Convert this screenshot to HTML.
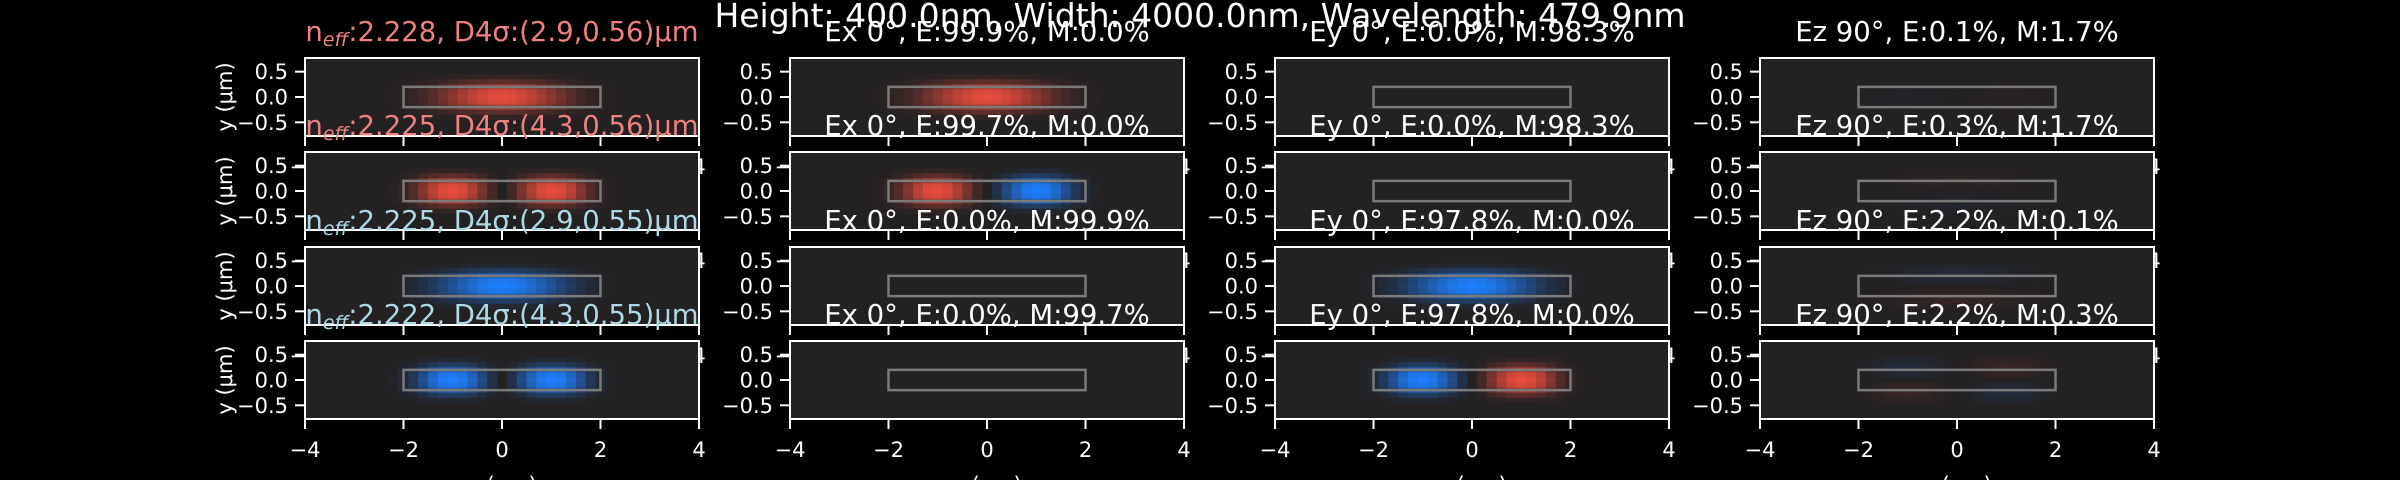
<!DOCTYPE html>
<html><head><meta charset="utf-8">
<style>
html,body{margin:0;padding:0;background:#000;}
svg{display:block;}
text{font-family:"DejaVu Sans","Liberation Sans",sans-serif;fill:#fff;}
</style></head>
<body>
<svg id="fig" width="2400" height="480" viewBox="0 0 2400 480" xmlns="http://www.w3.org/2000/svg">
<rect x="0" y="0" width="2400" height="480" fill="#000"/>
<text x="1200" y="27" font-size="33" text-anchor="middle">Height: 400.0nm, Width: 4000.0nm, Wavelength: 479.9nm</text>
</svg>
<script>
// ---- data ----
const xTicks = [-4, -2, 0, 2, 4];
const xTickLabels = ["\u22124", "\u22122", "0", "2", "4"];
const yTicks = [0.5, 0, -0.5];
const yTickLabels = ["0.5", "0.0", "\u22120.5"];
const xCenters = [-2.4,-2.2,-2.0,-1.8,-1.6,-1.4,-1.2,-1.0,-0.8,-0.6,-0.4,-0.2,0,0.2,0.4,0.6,0.8,1.0,1.2,1.4,1.6,1.8,2.0,2.2,2.4];
const yCenters = [0.4,0.3,0.2,0.1,0,-0.1,-0.2,-0.3,-0.4];
const xMode0 = [0,0.02,0.05,0.1,0.17,0.27,0.4,0.53,0.67,0.8,0.9,0.97,1,0.97,0.9,0.8,0.67,0.53,0.4,0.27,0.17,0.1,0.05,0.02,0];
const xMode1Abs = [0,0.03,0.1,0.25,0.5,0.78,0.95,1,0.93,0.72,0.45,0.18,0,0.18,0.45,0.72,0.93,1,0.95,0.78,0.5,0.25,0.1,0.03,0];
const xMode1Signed = [0,0.03,0.1,0.25,0.5,0.78,0.95,1,0.93,0.72,0.45,0.18,0,-0.18,-0.45,-0.72,-0.93,-1,-0.95,-0.78,-0.5,-0.25,-0.1,-0.03,0];
const yEven = [0.08,0.3,0.7,0.93,1,0.93,0.7,0.3,0.08];
const yOdd = [0.5,0.9,1,0.6,0,-0.6,-1,-0.9,-0.5];
const panelXProfile = [["m0","m0","none","m1s"],["m1a","m1s","none","m0"],["m0","none","m0","m0"],["m1a","none","m1s","m1s"]];
const panelYProfile = [["even","even","even","even"],["even","even","even","odd"],["even","even","even","odd"],["even","even","even","odd"]];
const panelAmp = [[1,1,0,-0.03],[1,1,0,0.05],[-1,0,-1,-0.1],[-1,0,-1,-0.12]];
const titles = [
 ["n_eff:2.228, D4\u03c3:(2.9,0.56)\u03bcm","Ex 0\u00b0, E:99.9%, M:0.0%","Ey 0\u00b0, E:0.0%, M:98.3%","Ez 90\u00b0, E:0.1%, M:1.7%"],
 ["n_eff:2.225, D4\u03c3:(4.3,0.56)\u03bcm","Ex 0\u00b0, E:99.7%, M:0.0%","Ey 0\u00b0, E:0.0%, M:98.3%","Ez 90\u00b0, E:0.3%, M:1.7%"],
 ["n_eff:2.225, D4\u03c3:(2.9,0.55)\u03bcm","Ex 0\u00b0, E:0.0%, M:99.9%","Ey 0\u00b0, E:97.8%, M:0.0%","Ez 90\u00b0, E:2.2%, M:0.1%"],
 ["n_eff:2.222, D4\u03c3:(4.3,0.55)\u03bcm","Ex 0\u00b0, E:0.0%, M:99.7%","Ey 0\u00b0, E:97.8%, M:0.0%","Ez 90\u00b0, E:2.2%, M:0.3%"]
];
const titleColors = ["#f08080","#f08080","#add8e6","#add8e6"];

// ---- layout ----
const NS = "http://www.w3.org/2000/svg";
const svg = document.getElementById('fig');
const colLeft = [305, 790, 1275, 1760];
const rowTop = [58, 152, 247, 341];
const PW = 394, PH = 78, XMIN = -4, XMAX = 4, YMIN = -0.77, YMAX = 0.77;
function sx(c, x) { return colLeft[c] + (x - XMIN) / (XMAX - XMIN) * PW; }
function sy(r, y) { return rowTop[r] + (YMAX - y) / (YMAX - YMIN) * PH; }
const profiles = { m0: xMode0, m1a: xMode1Abs, m1s: xMode1Signed, even: yEven, odd: yOdd };
const BG = [35, 33, 34], RED = [232, 76, 61], BLUE = [30, 128, 255];
function colorFor(v) {
  const t = Math.min(1, Math.abs(v));
  const tgt = v >= 0 ? RED : BLUE;
  const c = BG.map((b, i) => Math.round(b + (tgt[i] - b) * t));
  return `rgb(${c[0]},${c[1]},${c[2]})`;
}
function mk(tag, attrs, parent) {
  const e = document.createElementNS(NS, tag);
  for (const k in attrs) e.setAttribute(k, attrs[k]);
  (parent || svg).appendChild(e);
  return e;
}
const TICKFS = 21, TITLEFS = 27.5;

const titleLayer = [];
for (let r = 0; r < 4; r++) {
  for (let c = 0; c < 4; c++) {
    const g = mk('g', {});
    
    
    const bg = mk('rect', { x: colLeft[c], y: rowTop[r], width: PW, height: PH, fill: '#232122' }, g);
    
    
    const xp = panelXProfile[r][c], yp = panelYProfile[r][c], amp = panelAmp[r][c];
    if (xp !== 'none' && amp !== 0) {
      const hx = profiles[xp], hy = profiles[yp];
      for (let i = 0; i < xCenters.length; i++) {
        for (let j = 0; j < yCenters.length; j++) {
          const v = amp * hx[i] * hy[j];
          if (Math.abs(v) < 0.005) continue;
          const x0 = sx(c, xCenters[i] - 0.1), x1 = sx(c, xCenters[i] + 0.1);
          const y0 = sy(r, yCenters[j] + 0.05), y1 = sy(r, yCenters[j] - 0.05);
          const cell = mk('rect', { x: x0, y: y0, width: x1 - x0 + 0.3, height: y1 - y0 + 0.3, fill: colorFor(v) }, g);
          
          
        }
      }
    }
    const wg = mk('rect', { x: sx(c, -2), y: sy(r, 0.2), width: sx(c, 2) - sx(c, -2), height: sy(r, -0.2) - sy(r, 0.2), fill: 'none', stroke: '#7a7a7a', 'stroke-width': 2.5 }, g);
    
    
    const fr = mk('rect', { x: colLeft[c], y: rowTop[r], width: PW, height: PH, fill: 'none', stroke: '#fff', 'stroke-width': 2 }, g);
    
    
    for (let k = 0; k < yTicks.length; k++) {
      const yy = sy(r, yTicks[k]);
      const tk = mk('line', { x1: colLeft[c] - 10, x2: colLeft[c], y1: yy, y2: yy, stroke: '#fff', 'stroke-width': 2 }, g);
      
      
      const tl = mk('text', { x: colLeft[c] - 17, y: yy + 7.5, 'font-size': TICKFS, 'text-anchor': 'end' }, g);
      tl.textContent = yTickLabels[k];
      
      
    }
    const bot = rowTop[r] + PH;
    for (let k = 0; k < xTicks.length; k++) {
      const xx = sx(c, xTicks[k]);
      const tk = mk('line', { x1: xx, x2: xx, y1: bot, y2: bot + 10, stroke: '#fff', 'stroke-width': 2 }, g);
      
      
      const tl = mk('text', { x: xx, y: bot + 38, 'font-size': TICKFS, 'text-anchor': 'middle' }, g);
      tl.textContent = xTickLabels[k];
      
      
    }
    titleLayer.push([r, c]);
  }
}
for (let r = 0; r < 4; r++) {
  const cy = rowTop[r] + PH / 2;
  const yl = mk('text', { x: 0, y: 0, 'font-size': TICKFS, 'text-anchor': 'middle', transform: `translate(232,${cy}) rotate(-90)` });
  yl.textContent = 'y (\u03bcm)';
  
  
}
for (let c = 0; c < 4; c++) {
  const xl = mk('text', { x: colLeft[c] + PW / 2, y: 492, 'font-size': TICKFS, 'text-anchor': 'middle' });
  xl.textContent = 'x (\u03bcm)';
  
  
}
for (const [r, c] of titleLayer) {
  const t = mk('text', { x: colLeft[c] + PW / 2, y: rowTop[r] - 17, 'font-size': TITLEFS, 'text-anchor': 'middle' });
  const s = titles[r][c];
  if (c === 0) {
    t.style.fill = titleColors[r];
    const parts = s.split('_eff');
    const a = mk('tspan', {}, t); a.textContent = parts[0];
    a.style.fill = titleColors[r];
    const b = mk('tspan', { 'font-size': 19, 'font-style': 'italic', dy: 5 }, t); b.textContent = 'eff';
    b.style.fill = titleColors[r];
    const d = mk('tspan', { dy: -5 }, t); d.textContent = parts[1];
    d.style.fill = titleColors[r];
  } else {
    t.textContent = s;
  }
  
  
}
</script>
</body></html>
